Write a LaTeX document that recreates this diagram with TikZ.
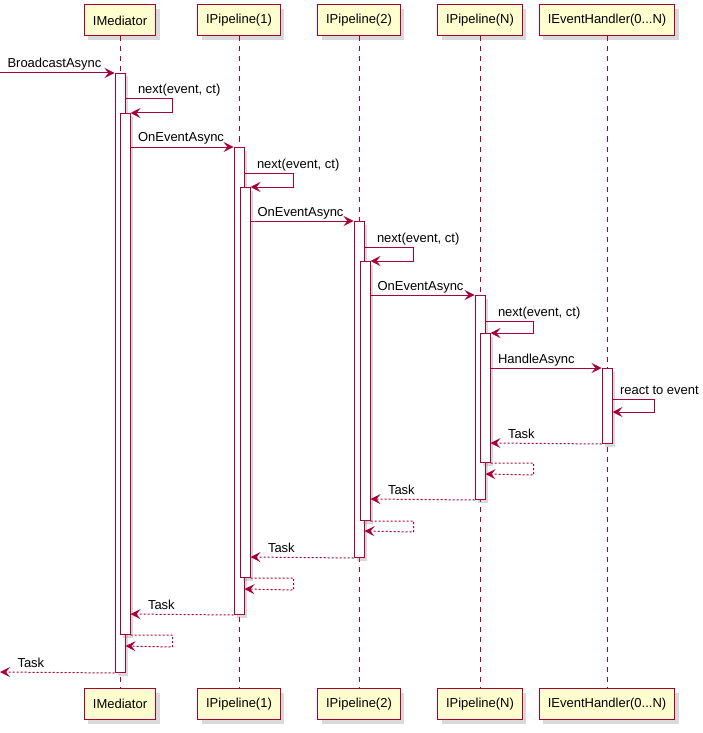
\documentclass[tikz,border=0pt]{standalone}
\usepackage{fontspec}
\setmainfont{Liberation Sans}
\usetikzlibrary{positioning,shadows,arrows.meta}
\definecolor{umlred}{HTML}{A80036}
\definecolor{umlfill}{HTML}{FEFECE}

\begin{document}
\begin{tikzpicture}[x=1pt,y=-1pt,node distance=119pt,on grid,
  font=\fontsize{13}{15}\selectfont,
  participant/.style={draw=umlred,fill=umlfill,line width=1pt,minimum height=31pt,
    inner xsep=8.5pt,drop shadow={shadow xshift=4pt,shadow yshift=-4pt,opacity=0.3}},
  act/.style={draw=umlred,fill=white,line width=1pt,minimum width=10pt,inner sep=0pt,
    anchor=north,drop shadow={shadow xshift=3pt,shadow yshift=-3pt,opacity=0.3}},
  lifeline/.style={draw=umlred,line width=1pt,dash pattern=on 5pt off 5pt},
  msg/.style={draw=umlred,line width=1pt,-{Stealth[length=10pt,width=10pt,inset=4pt]}},
  ret/.style={msg,dash pattern=on 2pt off 2pt},
  lbl/.style={anchor=base west,inner sep=0pt,text=black}]
  \useasboundingbox (0,0) rectangle (703,733);
  % Participants
  \node[participant] (med) at (120,20.5) {IMediator};
  \node[participant] (pa) [right=of med] {IPipeline(1)};
  \node[participant] (pb) [right=120pt of pa] {IPipeline(2)};
  \node[participant] (pn) [right=121pt of pb] {IPipeline(N)};
  \node[participant] (eh) [right=127pt of pn] {IEventHandler(0...N)};
  \node[participant] (medb) [below=683.5pt of med] {IMediator};
  \node[participant] (pab) [below=683.5pt of pa] {IPipeline(1)};
  \node[participant] (pbb) [below=683.5pt of pb] {IPipeline(2)};
  \node[participant] (pnb) [below=683.5pt of pn] {IPipeline(N)};
  \node[participant] (ehb) [below=683.5pt of eh] {IEventHandler(0...N)};
  % Lifelines
  \draw[lifeline] (med.south) -- (medb.north);
  \draw[lifeline] (pa.south) -- (pab.north);
  \draw[lifeline] (pb.south) -- (pbb.north);
  \draw[lifeline] (pn.south) -- (pnb.north);
  \draw[lifeline] (eh.south) -- (ehb.north);
  % Activations
  \node[act,minimum height=599pt] (ma1) at (120,73) {};
  \node[act,minimum height=521pt] (ma2) at (125,113) {};
  \node[act,minimum height=467pt] (pa1) at (239,147) {};
  \node[act,minimum height=390pt] (pa2) at (245,187) {};
  \node[act,minimum height=336pt] (pb1) at (359,221) {};
  \node[act,minimum height=259pt] (pb2) at (365,261) {};
  \node[act,minimum height=204pt] (pn1) at (480,295) {};
  \node[act,minimum height=129pt] (pn2) at (485,333) {};
  \node[act,minimum height=75pt] (eh1) at (607,368) {};
  \coordinate (in) at (0,73);
  \coordinate (out) at (0,672);
  % Calls
  \draw[msg] (in) node[lbl,xshift=7pt,yshift=5pt] (l1) {BroadcastAsync} -- (ma1.north west);
  \draw[msg] (ma1.east |- 0,99) node[lbl,xshift=12pt,yshift=5pt] (l2) {next(event, ct)}
    -- ++(47,0) -- ++(0,14) -- (ma2.north east);
  \draw[msg] (ma2.east |- 0,147) node[lbl,xshift=7pt,yshift=5pt] (l3) {OnEventAsync} -- (pa1.north west);
  \draw[msg] (pa1.east |- 0,173) node[lbl,xshift=12pt,yshift=5pt] (l4) {next(event, ct)}
    -- ++(49,0) -- ++(0,14) -- (pa2.north east);
  \draw[msg] (pa2.east |- 0,221) node[lbl,xshift=6.5pt,yshift=5pt] (l5) {OnEventAsync} -- (pb1.north west);
  \draw[msg] (pb1.east |- 0,247) node[lbl,xshift=12pt,yshift=5pt] (l6) {next(event, ct)}
    -- ++(49,0) -- ++(0,14) -- (pb2.north east);
  \draw[msg] (pb2.east |- 0,295) node[lbl,xshift=6.5pt,yshift=5pt] (l7) {OnEventAsync} -- (pn1.north west);
  \draw[msg] (pn1.east |- 0,321) node[lbl,xshift=12pt,yshift=5pt] (l8) {next(event, ct)}
    -- ++(48,0) -- ++(0,12) -- (pn2.north east);
  \draw[msg] (pn2.east |- 0,368) node[lbl,xshift=7pt,yshift=5pt] (l9) {HandleAsync} -- (eh1.north west);
  \draw[msg] (eh1.east |- 0,399) node[lbl,xshift=7pt,yshift=5pt] (l10) {react to event}
    -- ++(42,0) -- ++(0,13) -- (eh1.east |- 0,412);
  % Returns
  \draw[ret] (eh1.south west) -- (pn2.east |- 0,443) node[lbl,xshift=17pt,yshift=5pt] (l11) {Task};
  \draw[ret] (pn2.south east) -- ++(43,0) -- ++(0,12) -- (pn1.east |- 0,474);
  \draw[ret] (pn1.south west) -- (pb2.east |- 0,499) node[lbl,xshift=17pt,yshift=5pt] (l12) {Task};
  \draw[ret] (pb2.south east) -- ++(43,0) -- ++(0,11) -- (pb1.east |- 0,531);
  \draw[ret] (pb1.south west) -- (pa2.east |- 0,557) node[lbl,xshift=17pt,yshift=5pt] (l13) {Task};
  \draw[ret] (pa2.south east) -- ++(43,0) -- ++(0,12) -- (pa1.east |- 0,589);
  \draw[ret] (pa1.south west) -- (ma2.east |- 0,614) node[lbl,xshift=17pt,yshift=5pt] (l14) {Task};
  \draw[ret] (ma2.south east) -- ++(42,0) -- ++(0,12) -- (ma1.east |- 0,646);
  \draw[ret] (ma1.south west) -- (out) node[lbl,xshift=17pt,yshift=5pt] (l15) {Task};
\end{tikzpicture}
\end{document}
